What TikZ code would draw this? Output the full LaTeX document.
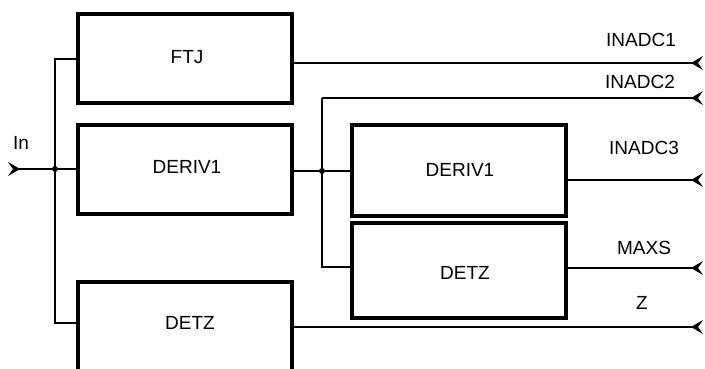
\documentclass[tikz,border=0pt]{standalone}
\usepackage{fontspec}
\setmainfont{Liberation Sans}
\usetikzlibrary{arrows.meta,calc}
\tikzset{
  blk/.style={draw, line width=3.6pt, minimum width=214pt, inner sep=0pt},
  lbl/.style={font=\fontsize{19}{22}\selectfont, inner sep=0pt},
  wire/.style={line width=1.1pt},
  outwire/.style={wire, -{Stealth[reversed,length=12pt,width=14pt,inset=5pt,line width=1pt]}},
  inwire/.style={wire, {Stealth[reversed,length=12pt,width=14pt,inset=5pt,line width=1pt]}-},
  jdot/.style={circle, fill, inner sep=0pt, minimum size=6pt}
}
\begin{document}
\begin{tikzpicture}[x=1pt,y=-1pt]
\clip (0,0) rectangle (705,369);
\fill[white] (0,0) rectangle (705,369);
% boxes
\node[blk, minimum height=89pt] (ftj) at (185,58.5) {};
\node[lbl] (ftjt) at (187,57) {FTJ};
\node[blk, minimum height=89pt] (d1) at (185,169.5) {};
\node[lbl] (d1t) at (187,167) {DERIV1};
\node[blk, minimum height=100pt] (z1) at (185,332) {};
\node[lbl] (z1t) at (190,323) {DETZ};
\node[blk, minimum height=91pt] (d2) at (459,170.5) {};
\node[lbl] (d2t) at (460,170) {DERIV1};
\node[blk, minimum height=95pt] (z2) at (459,270.5) {};
\node[lbl] (z2t) at (465,273) {DETZ};
% junctions and endpoints
\coordinate (inA) at (8,169);
\node[jdot] (j1) at (55,169) {};
\coordinate (b1) at (55,59);
\coordinate (b2) at (55,323);
\node[jdot] (j2) at (322,171) {};
\coordinate (c1) at (322,98);
\coordinate (c2) at (322,267);
\coordinate (o1) at (703,63);
\coordinate (o2) at (703,98);
\coordinate (o3) at (703,180);
\coordinate (o4) at (703,268);
\coordinate (o5) at (703,327);
% input
\draw[inwire] (inA) -- (inA -| d1.west);
\draw[wire] (b1 -| ftj.west) -- (b1) -- (b2) -- (b2 -| z1.west);
% middle junction
\draw[wire] (d1.east |- j2) -- (j2) -- (j2 -| d2.west);
\draw[wire] (c1) -- (c2) -- (c2 -| z2.west);
% outputs
\draw[outwire] (o1 -| ftj.east) -- (o1);
\draw[outwire] (c1) -- (o2);
\draw[outwire] (o3 -| d2.east) -- (o3);
\draw[outwire] (o4 -| z2.east) -- (o4);
\draw[outwire] (o5 -| z1.east) -- (o5);
% labels
\node[lbl] (lin) at (21,143) {In};
\node[lbl] (l1) at (641,40) {INADC1};
\node[lbl] (l2) at (640,82) {INADC2};
\node[lbl] (l3) at (644,148) {INADC3};
\node[lbl] (l4) at (644,248) {MAXS};
\node[lbl] (l5) at (642,303) {Z};
\end{tikzpicture}
\end{document}
